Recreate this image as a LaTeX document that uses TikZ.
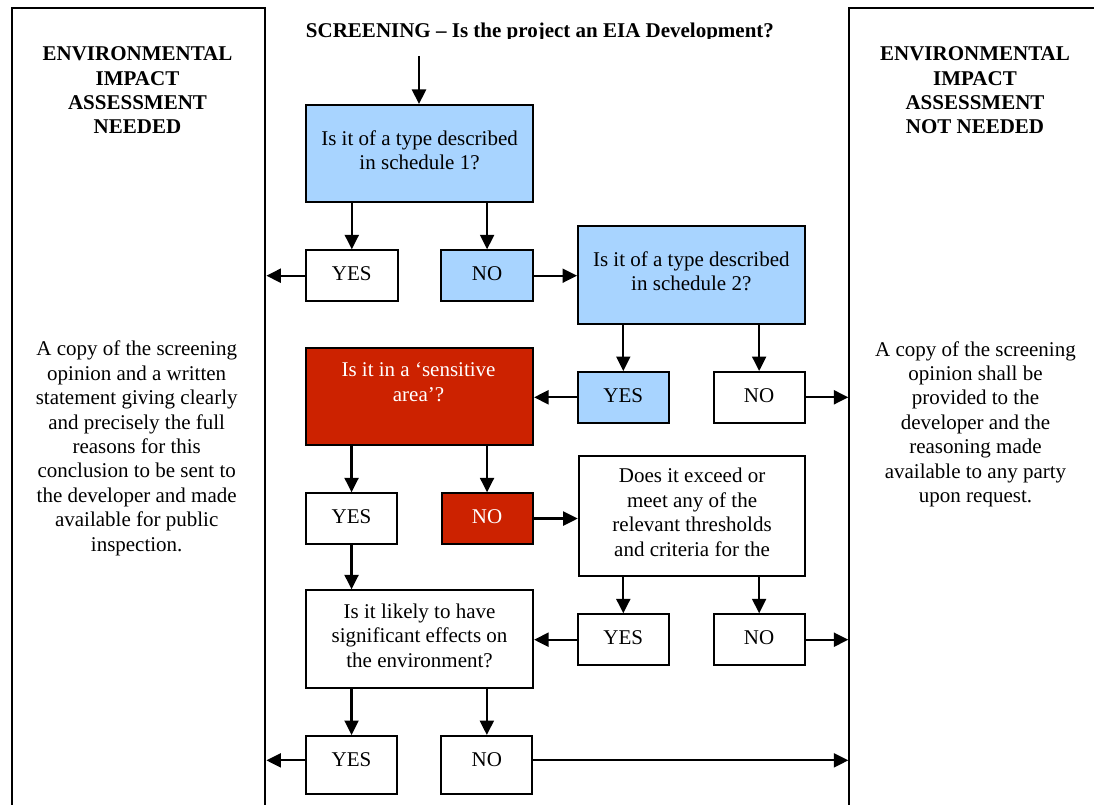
\documentclass[tikz,border=0pt]{standalone}
\usepackage{fontspec}
\setmainfont{Liberation Serif}
\usetikzlibrary{arrows.meta}
\definecolor{qblue}{RGB}{168,212,255}
\definecolor{qred}{RGB}{204,34,0}
\newcommand\txtsize{\fontsize{21}{24.4}\selectfont}

\begin{document}
\begin{tikzpicture}[x=1pt,y=-1pt,
  panel/.style={draw=black, line width=2.1pt, inner sep=0pt, anchor=north west},
  box/.style={draw=black, line width=2.1pt, inner sep=0pt, anchor=north west,
    font=\txtsize, align=center,
    execute at begin node=\strut, execute at end node=\strut},
  lowtext/.style={text height=10pt, text depth=8pt},
  txt/.style={font=\txtsize, align=center, inner sep=0pt,
    execute at begin node=\strut, execute at end node=\strut},
  head/.style={txt, font=\txtsize\bfseries},
  arr/.style={line width=2.2pt, -{Triangle[length=14.5pt,width=14pt]}}]

\useasboundingbox (0,0) rectangle (1094,805);
\clip (0,0) rectangle (1094,805);

% side panels
\node[panel, minimum width=253.6pt, minimum height=1000pt] (lpanel) at (10.7,7.3) {};
\node[panel, minimum width=254pt, minimum height=1000pt] (rpanel) at (848.3,7.3) {};

\node[head] (lhead) at (137.5,94) {ENVIRONMENTAL\\IMPACT\\ASSESSMENT\\NEEDED};
\node[head] (rhead) at (975,94) {ENVIRONMENTAL\\IMPACT\\ASSESSMENT\\NOT NEEDED};

\node[txt] (lbody) at (136.7,449.8) {A copy of the screening\\opinion and a written\\statement giving clearly\\and precisely the full\\reasons for this\\conclusion to be sent to\\the developer and made\\available for public\\inspection.};
\node[txt] (rbody) at (975.5,425.5) {A copy of the screening\\opinion shall be\\provided to the\\developer and the\\reasoning made\\available to any party\\upon request.};

% heading, cut along the bottom of its text frame
\begin{scope}
  \clip (0,0) rectangle (1094,38.5);
  \node[head] (title) at (540,32.5) {SCREENING \textendash{} Is the project an EIA Development?};
\end{scope}

% decision boxes
\node[box, fill=qblue, minimum width=227pt, minimum height=97pt] (q1) at (305,104) {Is it of a type described\\in schedule 1?};
\node[box, minimum width=91.5pt, minimum height=50.7pt] (yes1) at (305,249.3) {YES};
\node[box, fill=qblue, minimum width=91.5pt, minimum height=50.7pt] (no1) at (440.3,249.3) {NO};

\node[box, fill=qblue, minimum width=226.5pt, minimum height=97.5pt] (q2) at (577,225) {Is it of a type described\\in schedule 2?};
\node[box, fill=qblue, minimum width=90.5pt, minimum height=50.5pt] (yes2) at (577,371) {YES};
\node[box, minimum width=90.8pt, minimum height=50.5pt] (no2) at (712.7,371) {NO};

\node[box, fill=qred, minimum width=227pt, minimum height=97pt] (q3) at (305,346.7) {};
\node[txt, text=white] (q3text) at (418.5,385.5) {Is it in a `sensitive\\area'?};
\node[box, minimum width=91pt, minimum height=50.4pt] (yes3) at (305,492.3) {YES};
\node[box, fill=qred, text=white, minimum width=91pt, minimum height=50.4pt] (no3) at (440.5,492.3) {NO};

\node[box, minimum width=226.6pt, minimum height=120.5pt] (q4) at (577.7,454.5) {Does it exceed or\\meet any of the\\relevant thresholds\\and criteria for the};
\node[box, minimum width=90.5pt, minimum height=50.7pt] (yes4) at (577,613.3) {YES};
\node[box, minimum width=90.8pt, minimum height=50.7pt] (no4) at (712.7,613.3) {NO};

\node[box, minimum width=227pt, minimum height=97.4pt] (q5) at (305,589.3) {Is it likely to have\\significant effects on\\the environment?};
\node[box, lowtext, minimum width=91pt, minimum height=58pt] (yes5) at (305,735) {YES};
\node[box, lowtext, minimum width=91pt, minimum height=58pt] (no5) at (440.3,735) {NO};

% connectors
\coordinate (entry) at (419,56);
\draw[arr] (entry) -- (entry |- q1.north);
\draw[arr] (yes1 |- q1.south) -- (yes1.north);
\draw[arr] (no1 |- q1.south) -- (no1.north);
\draw[arr] (yes1.west) -- (yes1.west -| lpanel.east);
\draw[arr] (no1.east) -- (no1.east -| q2.west);

\draw[arr] (yes2 |- q2.south) -- (yes2.north);
\draw[arr] (no2 |- q2.south) -- (no2.north);
\draw[arr] (yes2.west) -- (yes2.west -| q3.east);
\draw[arr] (no2.east) -- (no2.east -| rpanel.west);

\draw[arr] (yes3 |- q3.south) -- (yes3.north);
\draw[arr] (no3 |- q3.south) -- (no3.north);
\draw[arr] (no3.east) -- (no3.east -| q4.west);
\draw[arr] (yes3.south) -- (yes3.south |- q5.north);

\draw[arr] (yes4 |- q4.south) -- (yes4.north);
\draw[arr] (no4 |- q4.south) -- (no4.north);
\draw[arr] (yes4.west) -- (yes4.west -| q5.east);
\draw[arr] (no4.east) -- (no4.east -| rpanel.west);

\draw[arr] (yes5 |- q5.south) -- (yes5.north);
\draw[arr] (no5 |- q5.south) -- (no5.north);
\coordinate (y5out) at ([yshift=4.7pt]yes5.west);
\coordinate (n5out) at ([yshift=4.7pt]no5.east);
\draw[arr] (y5out) -- (y5out -| lpanel.east);
\draw[arr] (n5out) -- (n5out -| rpanel.west);
\end{tikzpicture}
\end{document}
